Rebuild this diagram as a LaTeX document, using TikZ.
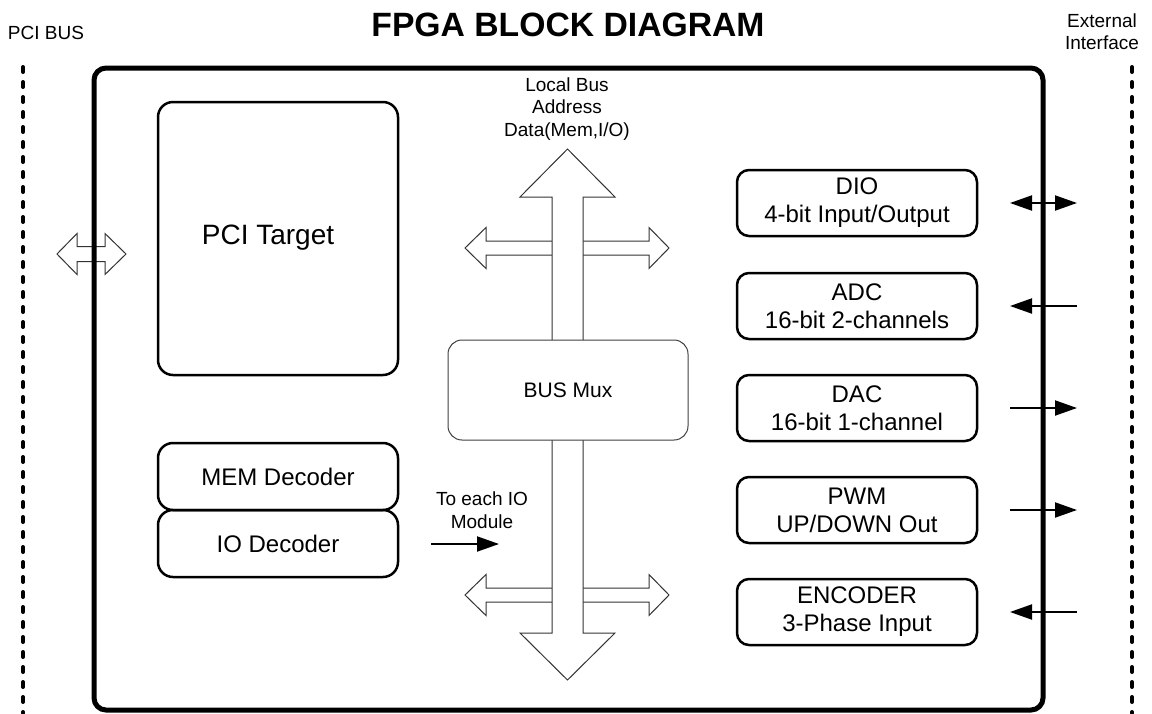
\documentclass[tikz,border=0pt]{standalone}
\usepackage{fontspec}
\setmainfont{Liberation Sans}
\usetikzlibrary{arrows.meta}

\begin{document}
\begin{tikzpicture}[x=1pt, y=-1pt,
  module/.style={draw, line width=2.5pt, rounded corners=12pt,
    minimum width=240pt, minimum height=66pt, inner sep=0pt,
    align=center, font=\fontsize{24}{28}\selectfont},
  busbox/.style={draw=black!75, line width=1pt, rounded corners=14pt,
    fill=white, minimum width=240pt, minimum height=100pt, inner sep=0pt,
    font=\fontsize{21}{25}\selectfont},
  hollow/.style={draw=black!80, line width=1pt, fill=white},
  label/.style={align=center, font=\fontsize{19}{22.5}\selectfont, inner sep=0pt},
  dotline/.style={line width=4pt, line cap=round, dash pattern=on 5pt off 10pt},
  sig/.style={line width=2pt},
  tip/.tip={Triangle[length=22pt, width=15pt]}
]
\useasboundingbox (0,0) rectangle (1152,713);

% headings
\node[font=\bfseries\fontsize{33.7}{38}\selectfont, inner sep=0pt] (title) at (568,25) {FPGA BLOCK DIAGRAM};
\node[label] (pcibus) at (46,33) {PCI BUS};
\node[label] (ext) at (1102,31.5) {External\\Interface};

% bus boundaries
\coordinate (pciTop) at (23,67);
\coordinate (pciBot) at (23,713);
\coordinate (extTop) at (1132,67);
\coordinate (extBot) at (1132,713);
\draw[dotline] (pciTop) -- (pciBot);
\draw[dotline] (extTop) -- (extBot);

% PCI side double arrow (under the FPGA border)
\draw[hollow] (57,254) -- (77,233.5) -- (77,246.5) -- (105,246.5) -- (105,233.5)
  -- (126,254) -- (105,274.5) -- (105,261.5) -- (77,261.5) -- (77,274.5) -- cycle;

% FPGA outline
\draw[line width=5pt, rounded corners=12pt] (94,68) rectangle (1043,710);

% left-side blocks
\node[module, minimum height=273pt, rounded corners=15pt] (pci) at (278,238.5) {};
\node[font=\fontsize{28}{32}\selectfont, inner sep=0pt] (pcitxt) at (268,238) {PCI Target};
\node[module, minimum height=67pt, rounded corners=15pt] (mem) at (278,476.5) {MEM Decoder};
\node[module, minimum height=67pt, rounded corners=15pt] (iodec) at (278,543.5) {IO Decoder};

% branch double arrows off the local bus
\draw[hollow] (465,248) -- (486,227.5) -- (486,241) -- (649,241) -- (649,227.5)
  -- (669,248) -- (649,268.5) -- (649,255) -- (486,255) -- (486,268.5) -- cycle;
\draw[hollow] (465,595) -- (486,574.5) -- (486,588) -- (649,588) -- (649,574.5)
  -- (669,595) -- (649,615.5) -- (649,602) -- (486,602) -- (486,615.5) -- cycle;

% local bus trunk
\draw[hollow] (567.5,149) -- (615,197) -- (583,197) -- (583,633) -- (615,633)
  -- (567.5,680) -- (520,633) -- (552,633) -- (552,197) -- (520,197) -- cycle;

\node[busbox] (mux) at (568,390) {BUS Mux};
\node[label] (lbus) at (567,109) {Local Bus\\Address\\Data(Mem,I/O)};

% decoder output note
\node[label] (toio) at (482,510) {To each IO\\Module};
\coordinate (toioA) at (431,544);
\coordinate (toioB) at (499,544);
\draw[sig, -tip] (toioA) -- (toioB);

% I/O modules
\node[module] (dio) at (857,203) {DIO\\4-bit Input/Output};
\node[module] (adc) at (857,306) {ADC\\16-bit 2-channels};
\node[module] (dac) at (857,408) {DAC\\16-bit 1-channel};
\node[module] (pwm) at (857,510) {PWM\\UP/DOWN Out};
\node[module] (enc) at (857,612) {ENCODER\\3-Phase Input};

% external signals
\coordinate (dioA) at (1010,203); \coordinate (dioB) at (1077,203);
\coordinate (adcA) at (1010,306); \coordinate (adcB) at (1077,306);
\coordinate (dacA) at (1010,408); \coordinate (dacB) at (1077,408);
\coordinate (pwmA) at (1010,510); \coordinate (pwmB) at (1077,510);
\coordinate (encA) at (1010,612); \coordinate (encB) at (1077,612);
\draw[sig, tip-tip] (dioA) -- (dioB);
\draw[sig, -tip] (adcB) -- (adcA);
\draw[sig, -tip] (dacA) -- (dacB);
\draw[sig, -tip] (pwmA) -- (pwmB);
\draw[sig, -tip] (encB) -- (encA);
\end{tikzpicture}
\end{document}
